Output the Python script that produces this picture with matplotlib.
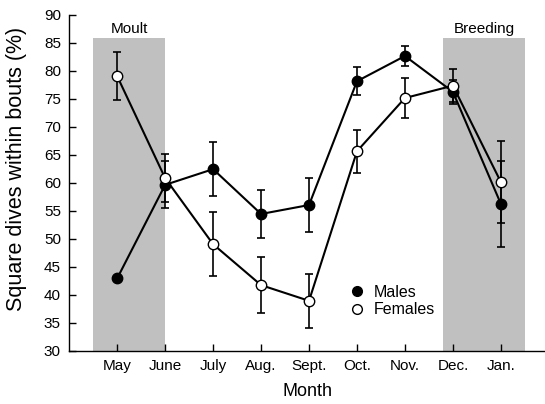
import numpy as np
import matplotlib
matplotlib.use("Agg")
import matplotlib.pyplot as plt
from matplotlib.lines import Line2D

plt.rcParams['font.family'] = ['Liberation Sans', 'DejaVu Sans']

months = ["May", "June", "July", "Aug.", "Sept.", "Oct.", "Nov.", "Dec.", "Jan."]
males = [42.9, 59.6, 62.4, 54.4, 56.0, 78.1, 82.6, 76.2, 56.2]
males_err = [0.0, 4.2, 4.8, 4.2, 4.9, 2.5, 1.7, 2.2, 7.7]
females = [79.0, 60.8, 49.0, 41.7, 38.9, 65.6, 75.1, 77.3, 60.1]
females_err = [4.3, 4.3, 5.7, 5.0, 4.8, 3.8, 3.6, 3.0, 7.3]

# shaded periods: (start, end, label)
periods = [(-0.5, 1.0, "Moult"), (6.8, 8.5, "Breeding")]
shade_top = 85.8

x = np.arange(len(months))

fig = plt.figure(figsize=(5.45, 4.04), dpi=100)
ax = fig.add_axes([0.127, 0.132, 0.873, 0.832])

for start, end, label in periods:
    ax.fill_between([start, end], 30, shade_top, color='#c0c0c0', lw=0, zorder=0)
    ax.text((start + end) / 2, 86.2, label, ha='center', va='bottom', fontsize=11)

ax.errorbar(x, males, yerr=males_err, fmt='-o', color='black', mfc='black', mec='black',
            ms=7.5, lw=1.5, elinewidth=1.2, capsize=3, capthick=1.2, zorder=3)
ax.errorbar(x, females, yerr=females_err, fmt='-o', color='black', mfc='white', mec='black',
            ms=7.5, lw=1.5, elinewidth=1.2, capsize=3, capthick=1.2, zorder=4)

handles = [
    Line2D([], [], ls='none', marker='o', color='black', mfc='black', ms=7),
    Line2D([], [], ls='none', marker='o', color='black', mfc='white', ms=7),
]
ax.legend(handles, ["Males", "Females"], frameon=False, fontsize=11.5,
          loc='center left', bbox_to_anchor=(0.555, 0.148),
          handletextpad=0.45, labelspacing=0.15, handlelength=1.2)

ax.set_xlim(-1, 8.92)
ax.set_ylim(30, 90)
ax.set_xticks(x)
ax.set_xticklabels(months)
ax.set_yticks(np.arange(30, 91, 5))
ax.tick_params(direction='in', length=5, width=1, labelsize=11, pad=6)
ax.spines['top'].set_visible(False)
ax.spines['right'].set_visible(False)
ax.spines['left'].set_linewidth(1)
ax.spines['bottom'].set_linewidth(1)
ax.set_xlabel("Month", fontsize=13, labelpad=7)
ax.set_ylabel("Square dives within bouts (%)", fontsize=15.5)
ax.yaxis.set_label_coords(-0.089, 0.542)

fig.savefig("out.png", dpi=100)
